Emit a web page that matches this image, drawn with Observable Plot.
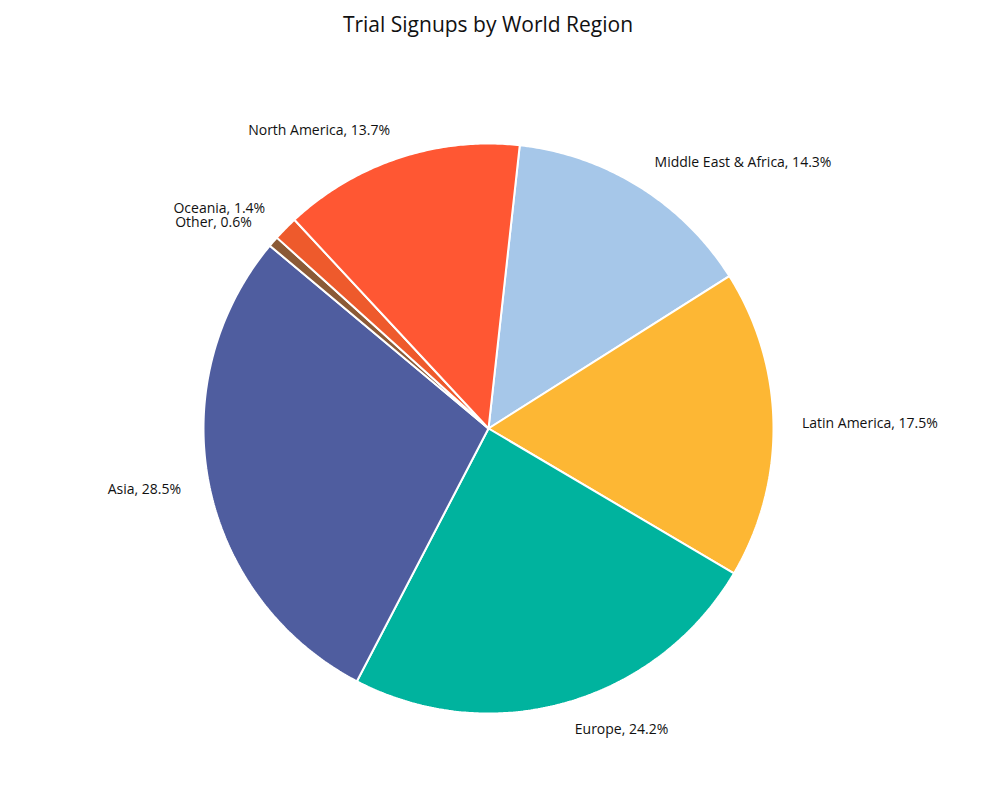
<!DOCTYPE html>
<html>
<head>
<meta charset="utf-8">
<script src="https://cdn.jsdelivr.net/npm/d3@7"></script>
<script src="https://cdn.jsdelivr.net/npm/@observablehq/plot@0.6"></script>
<style>
  body { margin: 0; background: #fff; font-family: "Open Sans", Roboto, sans-serif; }
  #title { height: 48px; line-height: 48px; text-align: center; font-size: 21px; color: #111; padding-right: 24px; }
</style>
</head>
<body>
<div id="title">Trial Signups by World Region</div>
<div id="chart"></div>
<script>
// Data (clockwise order starting near the top)
const regions = ["Middle East & Africa", "Latin America", "Europe", "Asia", "Other", "Oceania", "North America"];
const shares = [14.3, 17.5, 24.2, 28.5, 0.6, 1.4, 13.7];
const colors = ["#a6c7e9", "#fdb734", "#00b39e", "#4f5d9f", "#8b5a36", "#ee5a2c", "#ff5733"];
const startDeg = 6.3;

const total = d3.sum(shares);
const polys = [];
const labels = [];
let a0 = startDeg;
regions.forEach((name, i) => {
  const sweep = shares[i] / total * 360;
  const a1 = a0 + sweep;
  const pts = [{name, x: 0, y: 0}];
  const n = Math.max(2, Math.ceil(sweep / 0.5));
  for (let k = 0; k <= n; k++) {
    const t = (a0 + (a1 - a0) * k / n) * Math.PI / 180;
    pts.push({name, x: Math.sin(t), y: Math.cos(t)});
  }
  pts.push({name, x: 0, y: 0});
  polys.push(...pts);
  const m = ((a0 + a1) / 2) * Math.PI / 180;
  labels.push({name, text: `${name}, ${shares[i].toFixed(1)}%`, x: 1.1 * Math.sin(m), y: 1.1 * Math.cos(m)});
  a0 = a1;
});

const R = 285, cx = 488, cy = 428 - 48;
const chart = Plot.plot({
  width: 1000,
  height: 752,
  x: {domain: [-1, 1], range: [cx - R, cx + R], axis: null},
  y: {domain: [-1, 1], range: [cy + R, cy - R], axis: null},
  color: {domain: regions, range: colors},
  style: {fontFamily: "'Open Sans', Roboto, sans-serif", background: "#fff"},
  marks: [
    Plot.line(polys, {x: "x", y: "y", z: "name", fill: "name", stroke: "white", strokeWidth: 2, strokeLinejoin: "miter", curve: "linear"}),
    Plot.text(labels.filter(d => d.x >= 0), {x: "x", y: "y", text: "text", textAnchor: "start", lineAnchor: "middle", fontSize: 14, fill: "#111"}),
    Plot.text(labels.filter(d => d.x < 0), {x: "x", y: "y", text: "text", textAnchor: "end", lineAnchor: "middle", fontSize: 14, fill: "#111"})
  ]
});
document.getElementById("chart").appendChild(chart);
</script>
</body>
</html>
